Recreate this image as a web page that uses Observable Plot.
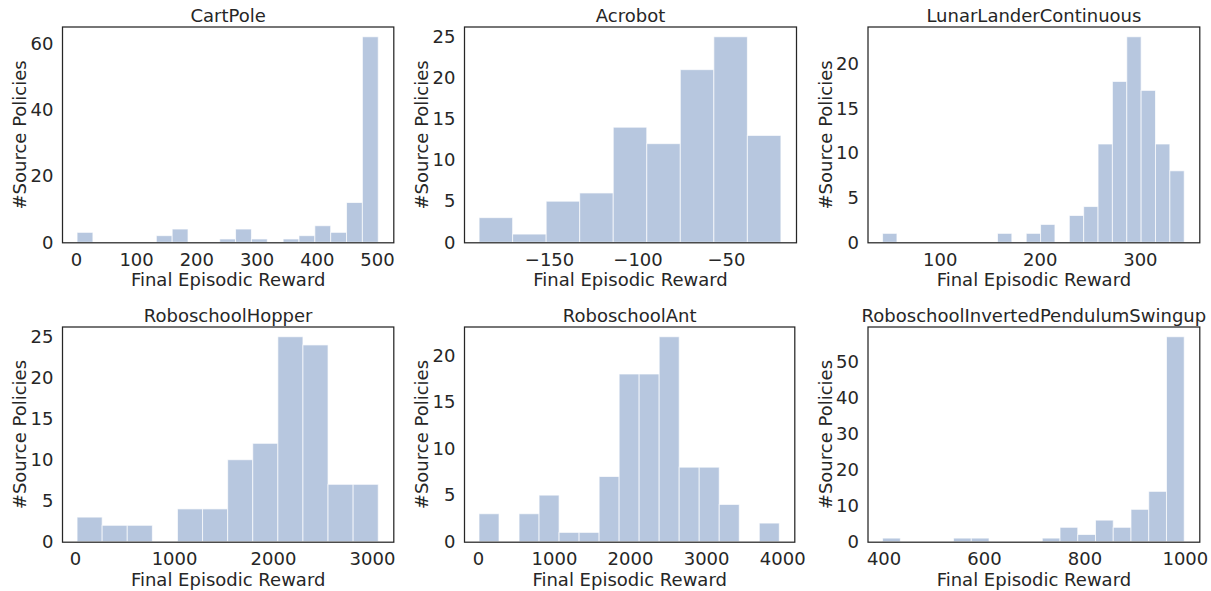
<!DOCTYPE html>
<html><head><meta charset="utf-8">
<script src="https://cdn.jsdelivr.net/npm/d3@7"></script>
<script src="https://cdn.jsdelivr.net/npm/@observablehq/plot@0.6"></script>
<style>
html,body{margin:0;padding:0;background:#fff;}
#chart{position:relative;width:1211px;height:591px;overflow:hidden;background:#fff;}
#chart svg{position:absolute;}
</style></head><body><div id="chart"></div>
<script>
// ---- data ----
const titles = ["CartPole","Acrobot","LunarLanderContinuous","RoboschoolHopper","RoboschoolAnt","RoboschoolInvertedPendulumSwingup"];
const cartpoleCounts = [3,0,0,0,0,2,4,0,0,1,4,1,0,1,2,5,3,12,62];
const acrobotCounts  = [3,1,5,6,14,12,21,25,13];
const lunarCounts    = [1,0,0,0,0,0,0,0,1,0,1,2,0,3,4,11,18,23,17,11,8];
const hopperCounts   = [3,2,2,0,4,4,10,12,25,24,7,7];
const antCounts      = [3,0,3,5,1,1,7,18,18,22,8,8,4,0,2];
const pendulumCounts = [1,0,0,0,1,1,0,0,0,1,4,2,6,4,9,14,57];
const rewardRanges = [[2,502],[-189.5,-19],[43,344.3],[20,3063],[15,3962],[398,998.7]];
const xTickValues = [[0,100,200,300,400,500],[-150,-100,-50],[100,200,300],[0,1000,2000,3000],[0,1000,2000,3000,4000],[400,600,800,1000]];
const yTickValues = [[0,20,40,60],[0,5,10,15,20,25],[0,5,10,15,20],[0,5,10,15,20,25],[0,5,10,15,20],[0,10,20,30,40,50]];
const xLabel = "Final Episodic Reward";
const yLabel = "#Source Policies";

// ---- layout ----
const allCounts = [cartpoleCounts, acrobotCounts, lunarCounts, hopperCounts, antCounts, pendulumCounts];
const layout = [
  {ox:0,   oy:0,   w:400, h:295, L:62,    R:393.3,  T:26.5,  B:242.3},
  {ox:400, oy:0,   w:405, h:295, L:464,   R:796,    T:26.5,  B:242.3},
  {ox:805, oy:0,   w:406, h:295, L:867.5, R:1199.3, T:26.5,  B:242.3},
  {ox:0,   oy:295, w:400, h:296, L:62,    R:393.3,  T:326.5, B:541.7},
  {ox:400, oy:295, w:405, h:296, L:464,   R:794.3,  T:326.5, B:541.7},
  {ox:805, oy:295, w:406, h:296, L:867.5, R:1199.3, T:326.5, B:541.7}
];
const ink = "#262626";
const fs = 18;
const fmt = d3.format("d");
const chart = document.getElementById("chart");

allCounts.forEach((counts, k) => {
  const [lo, hi] = rewardRanges[k];
  const n = counts.length, bw = (hi - lo) / n, span = hi - lo;
  const bins = counts.map((c, i) => ({x1: lo + i * bw, x2: lo + (i + 1) * bw, count: c})).filter(d => d.count > 0);
  const g = layout[k];
  const svg = Plot.plot({
    width: g.w, height: g.h,
    marginLeft: g.L - g.ox, marginRight: g.ox + g.w - g.R,
    marginTop: g.T - g.oy, marginBottom: g.oy + g.h - g.B,
    style: {fontFamily: "'DejaVu Sans', sans-serif", fontSize: fs + "px", color: ink, background: "transparent", overflow: "visible"},
    x: {domain: [lo - 0.05 * span, hi + 0.05 * span]},
    y: {domain: [0, d3.max(counts) * 1.05]},
    marks: [
      Plot.rectY(bins, {x1: "x1", x2: "x2", y: "count", fill: "#4C72B0", fillOpacity: 0.4, stroke: "white", strokeOpacity: 0.7, strokeWidth: 1}),
      Plot.frame({stroke: ink, strokeWidth: 1.25}),
      Plot.axisX({ticks: xTickValues[k], tickFormat: fmt, tickSize: 0, tickPadding: 10, fill: ink, fontSize: fs, label: xLabel, labelAnchor: "center", labelOffset: 43.5, labelArrow: "none"}),
      Plot.axisY({ticks: yTickValues[k], tickFormat: fmt, tickSize: 0, tickPadding: 9, fill: ink, fontSize: fs, label: yLabel, labelAnchor: "center", labelOffset: 49, labelArrow: "none"}),
      Plot.text([titles[k]], {text: d => d, frameAnchor: "top", lineAnchor: "bottom", dy: -5, fill: ink, fontSize: fs})
    ]
  });
  svg.style.left = g.ox + "px";
  svg.style.top = g.oy + "px";
  chart.appendChild(svg);
});
</script></body></html>
